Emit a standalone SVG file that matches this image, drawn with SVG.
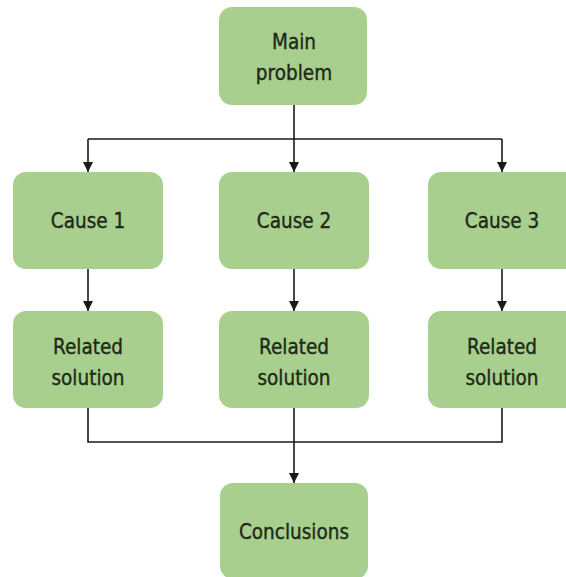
<svg xmlns="http://www.w3.org/2000/svg" width="566" height="577" viewBox="0 0 566 577">
  <defs>
    <marker id="arrow" viewBox="0 0 10 10" refX="10" refY="5" markerWidth="10" markerHeight="10" markerUnits="userSpaceOnUse" orient="auto">
      <path d="M0,0 L10,5 L0,10 z" fill="#1a1a1a"/>
    </marker>
    <style>
      .box { fill: #a9cf8f; }
      .label { font-family: "DejaVu Sans Condensed", "DejaVu Sans", sans-serif; font-size: 20.5px; fill: #1c2a17; stroke: #1c2a17; stroke-width: 0.35; text-anchor: middle; }
      .line { fill: none; stroke: #1a1a1a; stroke-width: 1.6; }
    </style>
  </defs>
  <rect width="566" height="577" fill="#ffffff"/>

  <g id="connectors">
    <!-- main problem fans out to the three causes -->
    <path class="line" d="M294,105 V139"/>
    <path class="line" d="M88,139 H502"/>
    <path class="line" d="M88,139 V172" marker-end="url(#arrow)"/>
    <path class="line" d="M294,139 V172" marker-end="url(#arrow)"/>
    <path class="line" d="M502,139 V172" marker-end="url(#arrow)"/>
    <!-- causes to solutions -->
    <path class="line" d="M88,269 V311" marker-end="url(#arrow)"/>
    <path class="line" d="M294,269 V311" marker-end="url(#arrow)"/>
    <path class="line" d="M502,269 V311" marker-end="url(#arrow)"/>
    <!-- solutions merge into conclusions -->
    <path class="line" d="M88,408 V442 H502 V408"/>
    <path class="line" d="M294,408 V483" marker-end="url(#arrow)"/>
  </g>

  <g id="main-problem">
    <rect class="box" x="219" y="7" width="148" height="98" rx="13"/>
    <text class="label" x="294" y="49">Main</text>
    <text class="label" x="294" y="80">problem</text>
  </g>

  <g id="cause-1">
    <rect class="box" x="13" y="172" width="150" height="97" rx="13"/>
    <text class="label" x="88" y="228">Cause 1</text>
  </g>
  <g id="cause-2">
    <rect class="box" x="219" y="172" width="150" height="97" rx="13"/>
    <text class="label" x="294" y="228">Cause 2</text>
  </g>
  <g id="cause-3">
    <rect class="box" x="428" y="172" width="150" height="97" rx="13"/>
    <text class="label" x="502" y="228">Cause 3</text>
  </g>

  <g id="solution-1">
    <rect class="box" x="13" y="311" width="150" height="97" rx="13"/>
    <text class="label" x="88" y="354">Related</text>
    <text class="label" x="88" y="385">solution</text>
  </g>
  <g id="solution-2">
    <rect class="box" x="219" y="311" width="150" height="97" rx="13"/>
    <text class="label" x="294" y="354">Related</text>
    <text class="label" x="294" y="385">solution</text>
  </g>
  <g id="solution-3">
    <rect class="box" x="428" y="311" width="150" height="97" rx="13"/>
    <text class="label" x="502" y="354">Related</text>
    <text class="label" x="502" y="385">solution</text>
  </g>

  <g id="conclusions">
    <rect class="box" x="220" y="483" width="148" height="96" rx="13"/>
    <text class="label" x="294" y="539">Conclusions</text>
  </g>
</svg>
